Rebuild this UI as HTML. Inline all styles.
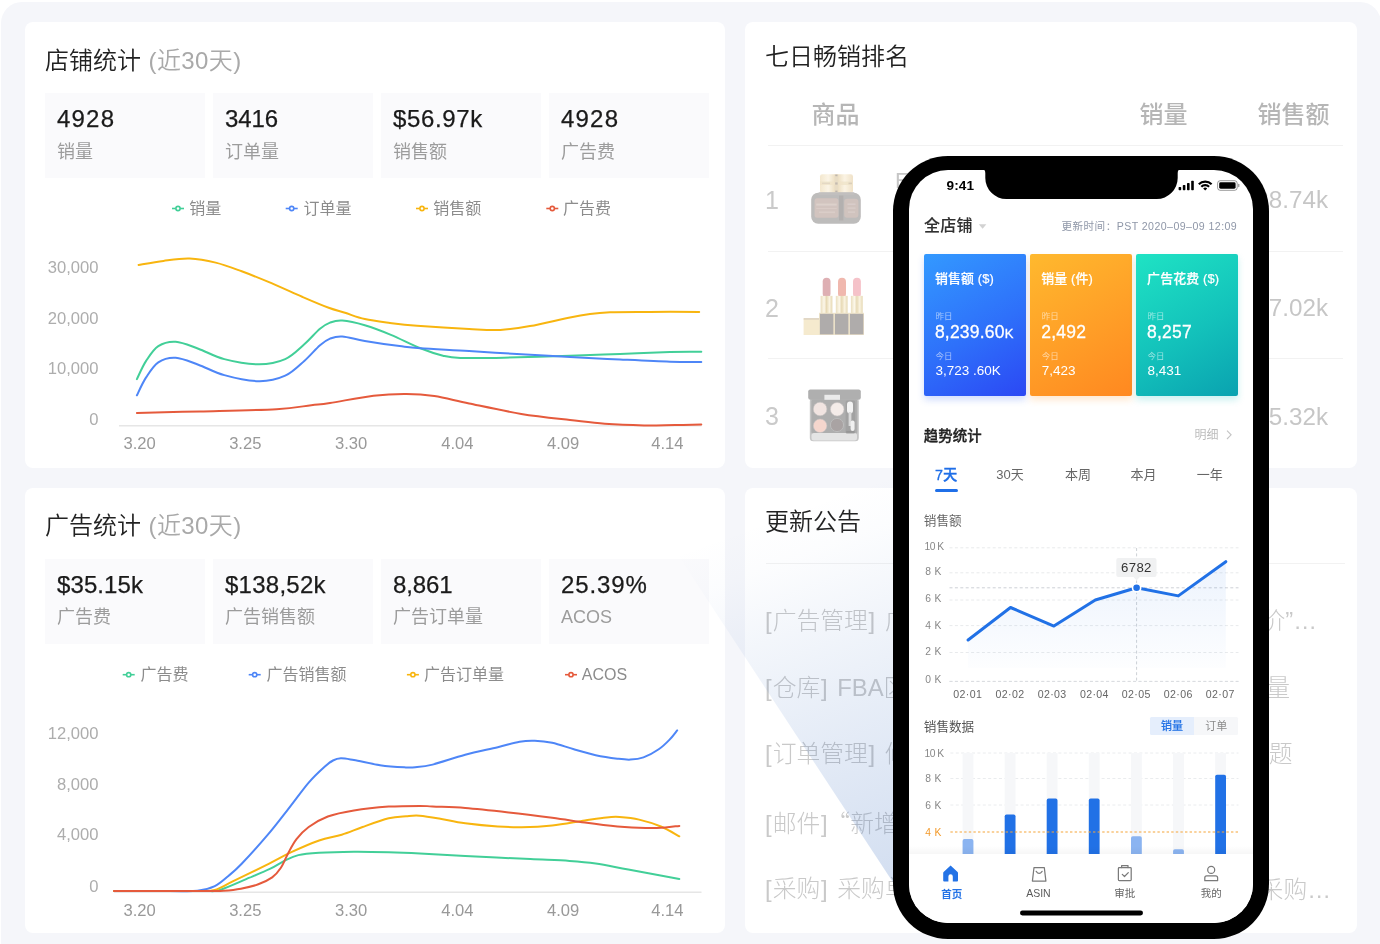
<!DOCTYPE html>
<html lang="zh-CN">
<head>
<meta charset="utf-8">
<title>Dashboard</title>
<style>
*{margin:0;padding:0;box-sizing:border-box}
html,body{width:1380px;height:944px;overflow:hidden;background:#fff}
body{position:relative;font-family:"Liberation Sans","Noto Sans CJK SC",sans-serif;color:#222;-webkit-font-smoothing:antialiased;will-change:transform}
.abs{position:absolute}
#bg{position:absolute;left:1px;top:2px;width:1380px;height:970px;background:#f5f6fa;border-radius:21px}
.card{position:absolute;background:#fff;border-radius:8px}
.t{position:absolute;white-space:nowrap;line-height:30px;height:30px}
.title{font-size:24px;color:#222;font-weight:350}
.title span{color:#a9a9a9;font-weight:350;margin-left:7.5px;letter-spacing:.4px}
.box{position:absolute;width:160px;height:85px;background:#fafafc}
.num{position:absolute;left:12px;top:11px;font-size:24px;line-height:30px;color:#1a1a1a;-webkit-text-stroke:0.25px #1a1a1a;letter-spacing:0.65px;white-space:nowrap}
.lbl{position:absolute;left:12px;top:47px;font-size:18px;line-height:24px;color:#9c9c9c;font-weight:400;white-space:nowrap}
.lg{font-size:16px;color:#8c8c8c;font-weight:400;line-height:20px;height:20px}
.ax{font-size:16.6px;color:#adadad;line-height:20px;height:20px;font-weight:300}
.ay{width:80px;text-align:right}
.axx{width:60px;text-align:center;color:#999}
svg{position:absolute;left:0;top:0;overflow:visible}
</style>
</head>
<body>
<div id="bg"></div>
<div class="card" style="left:25px;top:21.5px;width:700.2px;height:446.5px"></div>
<div class="t title" style="left:45px;top:45.7px">店铺统计<span>(近30天)</span></div>
<div class="box" style="left:45px;top:93px;height:84.5px"><div class="num" style="top:11px;letter-spacing:1.2px">4928</div><div class="lbl" style="top:47px">销量</div></div>
<div class="box" style="left:213px;top:93px;height:84.5px"><div class="num" style="top:11px;letter-spacing:-0.1px">3416</div><div class="lbl" style="top:47px">订单量</div></div>
<div class="box" style="left:381px;top:93px;height:84.5px"><div class="num" style="top:11px;letter-spacing:0.65px">$56.97k</div><div class="lbl" style="top:47px">销售额</div></div>
<div class="box" style="left:549px;top:93px;height:84.5px"><div class="num" style="top:11px;letter-spacing:1.2px">4928</div><div class="lbl" style="top:47px">广告费</div></div>
<div class="t lg" style="left:189.3px;top:198.9px">销量</div>
<div class="t lg" style="left:303.5px;top:198.9px">订单量</div>
<div class="t lg" style="left:433.2px;top:198.9px">销售额</div>
<div class="t lg" style="left:563px;top:198.9px">广告费</div>
<div class="t ax ay" style="left:18.5px;top:258px">30,000</div>
<div class="t ax ay" style="left:18.5px;top:309.4px">20,000</div>
<div class="t ax ay" style="left:18.5px;top:359.3px">10,000</div>
<div class="t ax ay" style="left:18.5px;top:410.1px">0</div>
<div class="t ax axx" style="left:109.6px;top:434px">3.20</div>
<div class="t ax axx" style="left:215.3px;top:434px">3.25</div>
<div class="t ax axx" style="left:321.2px;top:434px">3.30</div>
<div class="t ax axx" style="left:427.4px;top:434px">4.04</div>
<div class="t ax axx" style="left:533.1px;top:434px">4.09</div>
<div class="t ax axx" style="left:637.4px;top:434px">4.14</div>
<svg width="1380" height="944"><line x1="172.0" y1="208.5" x2="184.0" y2="208.5" stroke="#42cf98" stroke-width="1.6"/><circle cx="178.0" cy="208.5" r="2.1" fill="#fff" stroke="#42cf98" stroke-width="1.6"/><line x1="285.7" y1="208.5" x2="297.7" y2="208.5" stroke="#4e86f7" stroke-width="1.6"/><circle cx="291.7" cy="208.5" r="2.1" fill="#fff" stroke="#4e86f7" stroke-width="1.6"/><line x1="416.0" y1="208.5" x2="428.0" y2="208.5" stroke="#f8b50f" stroke-width="1.6"/><circle cx="422.0" cy="208.5" r="2.1" fill="#fff" stroke="#f8b50f" stroke-width="1.6"/><line x1="546.3" y1="208.5" x2="558.3" y2="208.5" stroke="#e55a3c" stroke-width="1.6"/><circle cx="552.3" cy="208.5" r="2.1" fill="#fff" stroke="#e55a3c" stroke-width="1.6"/><line x1="119" y1="425.7" x2="701.5" y2="425.7" stroke="#e6e6e6" stroke-width="1.4"/><path d="M138.6,264.9 C142.8,264.2 155.0,261.9 163.5,260.9 C172.0,259.8 180.9,258.3 189.6,258.6 C198.3,258.9 207.0,260.5 215.7,262.6 C224.4,264.7 233.0,268.1 241.7,271.3 C250.4,274.5 257.6,277.4 267.8,281.7 C278.0,286.0 292.5,292.6 302.6,297.0 C312.8,301.4 321.6,305.2 328.7,307.8 C335.8,310.4 339.0,310.9 345.0,312.8 C351.0,314.7 357.3,317.4 364.8,319.1 C372.3,320.8 381.3,321.8 390.0,322.9 C398.7,324.0 403.8,324.7 417.0,325.7 C430.2,326.7 455.2,328.3 469.1,329.0 C483.0,329.7 490.2,330.4 500.4,329.9 C510.5,329.4 518.4,328.2 530.0,326.1 C541.6,324.0 560.0,319.4 570.0,317.4 C580.0,315.4 583.3,314.9 590.0,314.0 C596.7,313.1 600.0,312.7 610.0,312.3 C620.0,311.9 635.1,312.0 650.0,311.9 C664.9,311.8 691.0,311.9 699.2,311.9" fill="none" stroke="#f8b50f" stroke-width="2" stroke-linecap="round" stroke-linejoin="round"/><path d="M136.9,379.1 C138.4,376.1 142.5,366.4 146.1,360.9 C149.7,355.4 153.4,349.3 158.3,346.1 C163.2,342.9 169.0,341.3 175.7,341.7 C182.4,342.1 190.2,345.8 198.3,348.7 C206.4,351.6 214.2,356.5 224.3,359.1 C234.4,361.7 249.0,364.3 259.1,364.3 C269.2,364.3 277.7,362.4 285.2,359.1 C292.7,355.8 298.5,349.4 304.3,344.3 C310.1,339.2 315.7,332.3 320.0,328.7 C324.3,325.1 326.3,324.0 330.0,322.6 C333.7,321.2 336.4,320.1 342.2,320.5 C348.0,320.9 356.7,322.8 364.8,325.2 C372.9,327.6 381.6,330.9 390.9,334.8 C400.2,338.7 411.7,344.8 420.4,348.3 C429.1,351.8 436.3,354.1 443.0,355.7 C449.7,357.3 450.2,357.6 460.4,357.9 C470.5,358.2 485.6,358.1 503.9,357.7 C522.2,357.3 550.6,356.3 570.0,355.7 C589.4,355.1 603.3,354.6 620.0,354.0 C636.7,353.4 656.5,352.4 670.0,352.0 C683.5,351.6 696.1,351.8 701.3,351.8" fill="none" stroke="#42cf98" stroke-width="2" stroke-linecap="round" stroke-linejoin="round"/><path d="M136.9,395.3 C138.4,392.3 142.5,382.9 146.1,377.4 C149.7,371.9 153.4,365.6 158.3,362.3 C163.2,359.0 169.0,357.3 175.7,357.7 C182.4,358.1 190.2,361.8 198.3,364.7 C206.4,367.6 214.2,372.4 224.3,375.1 C234.4,377.9 249.0,381.1 259.1,381.2 C269.2,381.3 277.7,379.1 285.2,375.7 C292.7,372.3 298.5,366.0 304.3,360.9 C310.1,355.8 315.7,348.9 320.0,345.2 C324.3,341.5 326.3,340.1 330.0,338.6 C333.7,337.2 336.4,336.1 342.2,336.5 C348.0,336.9 355.2,339.3 364.8,340.9 C374.4,342.5 390.3,344.9 399.6,346.1 C408.9,347.3 408.8,347.5 420.4,348.3 C432.0,349.1 452.3,350.0 469.1,351.0 C485.9,352.0 504.5,353.3 521.3,354.3 C538.1,355.3 553.5,356.1 570.0,357.0 C586.5,357.9 603.3,358.7 620.0,359.5 C636.7,360.3 656.5,361.3 670.0,361.7 C683.5,362.1 696.1,361.9 701.3,362.0" fill="none" stroke="#4e86f7" stroke-width="2" stroke-linecap="round" stroke-linejoin="round"/><path d="M136.9,413.0 C147.4,412.7 176.7,412.0 200.0,411.4 C223.3,410.8 257.9,410.2 276.5,409.2 C295.1,408.2 302.4,406.2 311.3,405.2 C320.2,404.2 319.6,404.6 330.0,403.0 C340.4,401.4 360.8,397.2 373.5,395.7 C386.2,394.2 396.4,393.8 406.5,393.9 C416.6,393.9 423.9,394.4 434.3,396.0 C444.7,397.6 454.6,400.5 469.1,403.5 C483.6,406.5 504.5,411.1 521.3,413.9 C538.1,416.6 556.1,418.4 570.0,420.0 C583.9,421.6 592.5,422.9 604.8,423.8 C617.1,424.7 632.3,425.2 644.0,425.4 C655.7,425.6 665.5,425.1 675.0,425.0 C684.5,424.9 696.9,424.7 701.3,424.6" fill="none" stroke="#e55a3c" stroke-width="2" stroke-linecap="round" stroke-linejoin="round"/></svg>
<div class="card" style="left:25px;top:488px;width:700.2px;height:445px"></div>
<div class="t title" style="left:45px;top:511.1px">广告统计<span>(近30天)</span></div>
<div class="box" style="left:45px;top:559px;height:84.5px"><div class="num" style="top:10.5px;letter-spacing:0.1px">$35.15k</div><div class="lbl" style="top:46px">广告费</div></div>
<div class="box" style="left:213px;top:559px;height:84.5px"><div class="num" style="top:10.5px;letter-spacing:0.25px">$138,52k</div><div class="lbl" style="top:46px">广告销售额</div></div>
<div class="box" style="left:381px;top:559px;height:84.5px"><div class="num" style="top:10.5px;letter-spacing:-0.1px">8,861</div><div class="lbl" style="top:46px">广告订单量</div></div>
<div class="box" style="left:549px;top:559px;height:84.5px"><div class="num" style="top:10.5px;letter-spacing:0.9px">25.39%</div><div class="lbl" style="top:46px">ACOS</div></div>
<div class="t lg" style="left:140.5px;top:665.1px">广告费</div>
<div class="t lg" style="left:266.5px;top:665.1px">广告销售额</div>
<div class="t lg" style="left:424px;top:665.1px">广告订单量</div>
<div class="t lg" style="left:581.8px;top:665.1px">ACOS</div>
<div class="t ax ay" style="left:18.5px;top:724.4px">12,000</div>
<div class="t ax ay" style="left:18.5px;top:775px">8,000</div>
<div class="t ax ay" style="left:18.5px;top:825.4px">4,000</div>
<div class="t ax ay" style="left:18.5px;top:876.8px">0</div>
<div class="t ax axx" style="left:109.6px;top:900.6px">3.20</div>
<div class="t ax axx" style="left:215.3px;top:900.6px">3.25</div>
<div class="t ax axx" style="left:321.2px;top:900.6px">3.30</div>
<div class="t ax axx" style="left:427.4px;top:900.6px">4.04</div>
<div class="t ax axx" style="left:533.1px;top:900.6px">4.09</div>
<div class="t ax axx" style="left:637.4px;top:900.6px">4.14</div>
<svg width="1380" height="944"><line x1="122.7" y1="674.7" x2="134.7" y2="674.7" stroke="#42cf98" stroke-width="1.6"/><circle cx="128.7" cy="674.7" r="2.1" fill="#fff" stroke="#42cf98" stroke-width="1.6"/><line x1="248.7" y1="674.7" x2="260.7" y2="674.7" stroke="#4e86f7" stroke-width="1.6"/><circle cx="254.7" cy="674.7" r="2.1" fill="#fff" stroke="#4e86f7" stroke-width="1.6"/><line x1="406.9" y1="674.7" x2="418.9" y2="674.7" stroke="#f8b50f" stroke-width="1.6"/><circle cx="412.9" cy="674.7" r="2.1" fill="#fff" stroke="#f8b50f" stroke-width="1.6"/><line x1="565.0" y1="674.7" x2="577.0" y2="674.7" stroke="#e55a3c" stroke-width="1.6"/><circle cx="571.0" cy="674.7" r="2.1" fill="#fff" stroke="#e55a3c" stroke-width="1.6"/><line x1="114" y1="892.3" x2="701.5" y2="892.3" stroke="#e6e6e6" stroke-width="1.4"/><path d="M114.0,891.0 C123.3,891.0 154.8,891.0 170.0,891.0 C185.2,891.0 196.7,891.2 205.0,891.0 C213.3,890.8 212.6,892.1 220.0,889.9 C227.4,887.7 241.2,881.2 249.6,877.7 C258.0,874.2 264.6,871.5 270.4,868.7 C276.2,865.9 279.6,863.2 284.3,860.9 C289.0,858.6 292.5,856.5 298.3,855.1 C304.1,853.7 309.8,853.3 319.1,852.7 C328.4,852.1 342.3,851.8 353.9,851.7 C365.5,851.6 377.7,851.9 388.7,852.2 C399.7,852.5 407.2,852.8 420.0,853.4 C432.8,854.0 446.8,854.9 465.2,855.9 C483.6,856.9 513.0,858.3 530.4,859.1 C547.8,859.9 558.7,860.2 569.6,860.9 C580.5,861.6 585.9,862.0 595.7,863.5 C605.5,865.0 614.4,867.0 628.3,869.6 C642.2,872.2 670.8,877.5 679.3,879.1" fill="none" stroke="#42cf98" stroke-width="2" stroke-linecap="round" stroke-linejoin="round"/><path d="M114.0,891.0 C123.3,891.0 156.1,891.0 170.0,891.0 C183.9,891.0 189.9,891.6 197.4,890.8 C204.9,890.0 209.6,888.6 214.8,886.1 C220.0,883.6 224.2,879.4 228.7,875.7 C233.2,872.0 235.3,870.5 241.7,863.8 C248.1,857.1 259.3,844.7 267.0,835.7 C274.7,826.7 280.9,818.5 287.8,809.6 C294.8,800.8 302.6,789.7 308.7,782.6 C314.8,775.5 320.2,770.7 324.3,767.0 C328.4,763.3 330.2,762.0 333.0,760.5 C335.8,759.0 337.4,758.4 340.9,758.3 C344.4,758.2 347.4,758.9 353.9,760.0 C360.4,761.1 371.6,764.0 380.0,765.2 C388.4,766.4 398.4,767.0 404.3,767.3 C410.2,767.6 410.5,767.7 415.2,767.2 C419.9,766.8 424.3,766.7 432.6,764.6 C440.9,762.5 454.3,757.7 465.2,754.8 C476.1,751.9 488.7,749.4 497.8,747.2 C506.9,745.0 513.4,742.8 519.6,741.7 C525.8,740.6 529.4,740.5 534.8,740.7 C540.2,740.9 545.7,741.4 552.2,742.8 C558.7,744.2 566.6,747.2 573.9,749.3 C581.1,751.4 588.5,753.6 595.7,755.2 C603.0,756.8 611.6,758.0 617.4,758.7 C623.2,759.4 626.0,759.8 630.4,759.6 C634.8,759.4 638.8,759.1 643.5,757.4 C648.2,755.7 654.4,752.3 658.7,749.3 C663.1,746.3 666.5,742.8 669.6,739.6 C672.7,736.5 675.9,731.9 677.2,730.4" fill="none" stroke="#4e86f7" stroke-width="2" stroke-linecap="round" stroke-linejoin="round"/><path d="M114.0,891.0 C123.3,891.0 155.7,891.0 170.0,891.0 C184.3,891.0 192.5,891.2 200.0,891.0 C207.5,890.8 209.4,891.4 214.8,889.9 C220.2,888.4 223.2,886.1 232.2,881.7 C241.2,877.4 258.8,868.7 268.7,863.8 C278.6,858.9 282.9,856.1 291.3,852.2 C299.7,848.3 310.7,843.4 319.1,840.5 C327.5,837.6 334.4,837.0 341.7,834.8 C348.9,832.5 354.8,829.8 362.6,827.0 C370.4,824.2 381.4,820.1 388.7,818.3 C395.9,816.5 401.0,816.6 406.1,816.2 C411.2,815.8 414.1,815.3 419.6,815.7 C425.1,816.1 431.5,817.2 439.1,818.5 C446.7,819.8 455.4,822.0 465.2,823.3 C475.0,824.6 488.4,825.9 497.8,826.5 C507.2,827.1 512.6,827.4 521.7,827.2 C530.8,827.0 541.7,826.5 552.2,825.4 C562.7,824.3 575.8,821.7 584.8,820.4 C593.8,819.1 600.7,818.0 606.5,817.4 C612.3,816.8 614.2,816.6 619.6,817.0 C625.0,817.4 632.2,818.0 639.1,819.6 C646.0,821.2 654.2,823.7 660.9,826.5 C667.6,829.3 676.2,834.7 679.3,836.3" fill="none" stroke="#f8b50f" stroke-width="2" stroke-linecap="round" stroke-linejoin="round"/><path d="M114.0,891.0 C123.3,891.0 154.0,891.0 170.0,891.0 C186.0,891.0 201.1,891.0 210.0,891.0 C218.9,891.0 218.3,891.2 223.5,890.8 C228.7,890.4 235.1,889.8 240.9,888.7 C246.7,887.6 253.1,886.2 258.3,884.3 C263.5,882.4 268.4,880.1 272.2,877.4 C276.0,874.6 278.3,871.7 280.9,867.8 C283.5,863.9 285.2,858.7 287.8,853.9 C290.4,849.1 293.0,843.6 296.5,839.1 C300.0,834.6 303.5,830.8 308.7,827.0 C313.9,823.2 320.3,819.3 327.8,816.5 C335.3,813.7 343.8,812.0 353.9,810.4 C364.0,808.8 377.7,807.4 388.7,806.6 C399.7,805.9 412.7,805.9 420.0,805.9 C427.3,805.9 425.1,806.1 432.6,806.5 C440.1,806.9 452.5,807.0 465.2,808.0 C477.9,809.0 494.2,810.8 508.7,812.4 C523.2,814.0 539.5,816.1 552.2,817.8 C564.9,819.5 573.9,821.1 584.8,822.6 C595.7,824.1 607.2,825.6 617.4,826.5 C627.5,827.4 637.7,827.9 645.7,828.0 C653.7,828.1 659.6,827.8 665.2,827.4 C670.8,827.0 676.9,826.1 679.3,825.9" fill="none" stroke="#e55a3c" stroke-width="2" stroke-linecap="round" stroke-linejoin="round"/></svg>
<style>
.th{font-size:24px;color:#b6b6b6;font-weight:500;line-height:30px;height:30px}
.rk{font-size:25px;color:#cacaca;line-height:30px;height:30px;font-weight:300}
.val{font-size:24.2px;color:#c6c6c6;line-height:30px;height:30px;font-weight:300;width:200px;text-align:right}
.pn{font-size:22px;color:#c6c6c6;line-height:30px;height:30px;font-weight:300}
.hl{position:absolute;height:1.2px;background:#f2f2f2}
.li{font-size:23.8px;color:#c9c9c9;font-weight:300;line-height:34px;height:34px;word-spacing:2px}
.li b{font-weight:300;margin:0 1.2px 0 .6px}
.li i{font-style:normal;font-family:"Noto Sans CJK SC",sans-serif;margin-left:-11px}
.lir{text-align:right;width:300px}
</style>
<div class="card" style="left:745px;top:21.5px;width:612.3px;height:446.5px"></div>
<div class="card" style="left:745px;top:488px;width:612.3px;height:445px"></div>
<div class="t title" style="left:765px;top:41.5px">七日畅销排名</div>
<div class="t th" style="left:811.5px;top:100px">商品</div>
<div class="t th" style="left:1139.5px;top:100px">销量</div>
<div class="t th" style="left:1257.5px;top:100px">销售额</div>
<div class="hl" style="left:768px;top:145.3px;width:575px"></div>
<div class="hl" style="left:768px;top:251.2px;width:575px"></div>
<div class="hl" style="left:768px;top:358px;width:575px"></div>
<div class="t rk" style="left:765px;top:184.5px">1</div>
<div class="t rk" style="left:765px;top:292.5px">2</div>
<div class="t rk" style="left:765px;top:401px">3</div>
<div class="t pn" style="left:895px;top:165.6px">Estee Lauder 雅诗兰黛眼霜</div>
<div class="t pn" style="left:895px;top:292px">TOM FORD 口红套装</div>
<div class="t pn" style="left:895px;top:401px">CHANEL 四色眼影</div>
<div class="t val" style="left:1128px;top:185px">$128.74k</div>
<div class="t val" style="left:1128px;top:293px">$97.02k</div>
<div class="t val" style="left:1128px;top:401.5px">$65.32k</div>
<div class="t val" style="left:990px;top:185px">2,816</div>
<div class="t val" style="left:990px;top:293px">2,154</div>
<div class="t val" style="left:990px;top:401.5px">1,760</div>
<svg width="1380" height="944" style="opacity:.93">
<defs>
<filter id="sb" x="-10%" y="-10%" width="120%" height="120%"><feGaussianBlur stdDeviation="0.6"/></filter>
<linearGradient id="gold" x1="0" x2="1" y1="0" y2="0"><stop offset="0" stop-color="#e9dcb9"/><stop offset=".3" stop-color="#fcf7e8"/><stop offset=".5" stop-color="#e6d7b0"/><stop offset=".75" stop-color="#faf3df"/><stop offset="1" stop-color="#e4d5ae"/></linearGradient>
<linearGradient id="lid" x1="0" x2="1" y1="0" y2="0"><stop offset="0" stop-color="#f3e6cb"/><stop offset=".25" stop-color="#fbf4e4"/><stop offset=".5" stop-color="#ead9b8"/><stop offset=".75" stop-color="#fbf3e2"/><stop offset="1" stop-color="#efe0c4"/></linearGradient>
</defs>
<g filter="url(#sb)">
<!-- jar -->
<rect x="820" y="174.3" width="33" height="18.8" rx="2.2" fill="url(#lid)"/>
<rect x="820" y="181.6" width="33" height="3.4" fill="#efe2c6" opacity=".8"/>
<rect x="834.6" y="174.3" width="3.6" height="18.8" fill="#e6d9c2" opacity=".8"/>
<rect x="835.3" y="174.6" width="2.2" height="1.6" fill="#b9b0a6"/><rect x="835.2" y="182.4" width="2.4" height="2.2" fill="#bfb5aa"/><rect x="835.3" y="190.6" width="2.2" height="1.6" fill="#b9b0a6"/>
<rect x="848.5" y="182.6" width="3.5" height="1.6" fill="#d8cbb6"/><rect x="822" y="182.6" width="8" height="1.4" fill="#e2d6c0"/>
<rect x="811.2" y="192.8" width="49.6" height="31" rx="7" fill="#b9b7b6"/>
<rect x="818.5" y="192.2" width="36" height="3" rx="1" fill="#bdbbba"/>
<rect x="814.6" y="198.2" width="23.8" height="19.6" rx="2.5" fill="#cfc0bb"/>
<rect x="844.2" y="198.8" width="14.2" height="19" rx="3" fill="#cdbfba"/>
<rect x="839" y="195.5" width="4.4" height="25" fill="#aeabaa"/>
<rect x="816.2" y="203.6" width="20.5" height="2" fill="#dccfca" opacity=".9"/><rect x="816.2" y="208" width="20.5" height="1" fill="#d9cbc6" opacity=".8"/><rect x="819" y="211.5" width="16" height="1.600" fill="#d9ccc7" opacity=".8"/>
<rect x="847.5" y="203.500" width="8" height="1.400" fill="#daceca" opacity=".8"/><rect x="847.5" y="207.500" width="8" height="1.200" fill="#daceca" opacity=".8"/><rect x="848" y="211.500" width="7" height="1.200" fill="#daceca" opacity=".8"/>
<!-- lipsticks -->
<rect x="803.6" y="318.6" width="15.4" height="16.4" fill="#f5e9cb"/>
<rect x="803.6" y="318.2" width="15.4" height="1.4" fill="#d9cdb9"/>
<g>
<rect x="822.7" y="277.7" width="7.8" height="20" rx="3.9" fill="#dcaaae"/>
<rect x="838" y="277.7" width="8" height="20" rx="4" fill="#efb3a8"/>
<rect x="853" y="277.7" width="7.9" height="20" rx="3.9" fill="#f5bec5"/>
<rect x="820.6" y="295.9" width="11.8" height="17.6" fill="url(#gold)"/>
<rect x="835.8" y="295.9" width="11.8" height="17.6" fill="url(#gold)"/>
<rect x="850.9" y="295.9" width="11.8" height="17.6" fill="url(#gold)"/>
<rect x="819" y="312.8" width="45" height="22.2" fill="#f0e5c8"/>
<rect x="819.9" y="313.8" width="13.5" height="20.6" fill="#aaa6a5"/>
<rect x="834.9" y="313.8" width="13.5" height="20.6" fill="#aaa6a5"/>
<rect x="849.9" y="313.8" width="13.5" height="20.6" fill="#aaa6a5"/>
</g>
<!-- palette -->
<rect x="809.8" y="398" width="49" height="43.2" rx="3.5" fill="#c2c2c2"/>
<rect x="811.3" y="399.5" width="46" height="34" rx="1.5" fill="#a8a8a8"/>
<rect x="811.5" y="433" width="45.5" height="7.6" rx="2.5" fill="#e2e2e2"/>
<rect x="808.2" y="389.4" width="52.6" height="10.4" rx="2.2" fill="#a9a9a9"/>
<rect x="824.4" y="394.8" width="15.6" height="5" fill="#eaeaea"/>
<circle cx="820.1" cy="409" r="6.8" fill="#f1e3df" stroke="#c4c0c0" stroke-width=".6"/>
<circle cx="837.2" cy="409.3" r="6.8" fill="#f4ebe8" stroke="#c4c0c0" stroke-width=".6"/>
<circle cx="820.1" cy="425.8" r="6.8" fill="#f6d3ca" stroke="#c4c0c0" stroke-width=".6"/>
<circle cx="837" cy="425" r="6.6" fill="#a39d9d" stroke="#b8b8b8" stroke-width=".9"/>
<rect x="845.6" y="400.5" width="9.6" height="33" rx="1.5" fill="#9c9c9c"/>
<rect x="847" y="401.5" width="6" height="12" rx="3" fill="#f4f4f4"/>
<rect x="848.6" y="412" width="2.8" height="14" fill="#d8d8d8"/>
<rect x="850.6" y="420.5" width="4" height="10.5" rx="2" fill="#f0f0f0"/>
<rect x="846.3" y="431" width="8" height="1.8" fill="#8f8f8f"/>
</g>
</svg>
<div class="t title" style="left:765px;top:506.5px">更新公告</div>
<div class="hl" style="left:766px;top:563.3px;width:579px"></div>
<div class="t li" style="left:764.3px;top:603.5px"><b>[</b>广告管理<b>]</b> 广告活动批量操作支持设置</div>
<div class="t li" style="left:764.3px;top:670.5px"><b>[</b>仓库<b>]</b> FBA区库存报表新增在途库存</div>
<div class="t li" style="left:764.3px;top:736.5px"><b>[</b>订单管理<b>]</b> 修复部分订单同步延迟的</div>
<div class="t li" style="left:764.3px;top:804.5px"><b>[</b>邮件<b>]</b> <i>“</i>新增邮件模板批量发送功能</div>
<div class="t li" style="left:764.3px;top:872px"><b>[</b>采购<b>]</b> 采购单支持一键生成并同步至</div>
<div class="t li lir" style="left:1018px;top:603.5px">“智能竞价”<span style="letter-spacing:1px">…</span></div>
<div class="t li lir" style="left:990px;top:670.5px">数量</div>
<div class="t li lir" style="left:992.5px;top:736.5px">问题</div>
<div class="t li lir" style="left:1031px;top:872.6px">采购…</div>
<svg width="1380" height="944">
<defs><linearGradient id="beam" gradientUnits="userSpaceOnUse" x1="676" y1="552" x2="813.6" y2="927.6">
<stop offset="0" stop-color="#4878c4" stop-opacity="0"/>
<stop offset=".12" stop-color="#4878c4" stop-opacity=".018"/>
<stop offset=".25" stop-color="#4878c4" stop-opacity=".055"/>
<stop offset=".5" stop-color="#4878c4" stop-opacity=".125"/>
<stop offset=".75" stop-color="#4878c4" stop-opacity=".19"/>
<stop offset="1" stop-color="#4878c4" stop-opacity=".25"/>
</linearGradient></defs>
<polygon points="676,552 900,470 900,893" fill="url(#beam)"/>
</svg>
<style>
#phone{position:absolute;left:893px;top:156px;width:376px;height:782.5px;background:#000;border-radius:55px}
#screen{position:absolute;left:909.3px;top:170px;width:343.9px;height:753px;background:#fff;border-radius:39px;overflow:hidden}
#sc{position:absolute;left:-909.3px;top:-170px;width:1380px;height:944px}
.p{position:absolute;white-space:nowrap}
.gc{position:absolute;top:254.2px;width:101.8px;height:141.8px;border-radius:2px}
.gc .h{position:absolute;left:11px;top:17.2px;font-size:12.9px;line-height:16px;font-weight:500;color:#fff;letter-spacing:.15px;-webkit-text-stroke:.2px #fff}
.gc .s{position:absolute;left:11.5px;font-size:8.5px;line-height:10px;color:rgba(255,255,255,.55)}
.gc .b{position:absolute;left:11px;top:67.5px;font-size:17.5px;line-height:20px;color:#fff;-webkit-text-stroke:0.3px #fff;letter-spacing:.2px}
.gc .b small{font-size:13px}
.gc .c{position:absolute;left:11.5px;top:108.5px;font-size:13.5px;line-height:16px;color:#fff}
.tab{font-size:13px;color:#666;line-height:18px;height:18px}
</style>
<div id="phone"></div>
<div id="screen"><div id="sc">
<!-- status bar -->
<div class="p" style="left:946.5px;top:176.5px;font-size:13.6px;font-weight:700;line-height:18px;color:#000;letter-spacing:.1px">9:41</div>
<svg width="1380" height="944">
<path d="M976,169 h5.5 q3.8,0 3.8,4 v5 a21,21 0 0 0 21,21 h150.4 a21,21 0 0 0 21,-21 v-5 q0,-4 3.8,-4 h5.5 z" fill="#000"/>
<!-- signal -->
<rect x="1178.6" y="187" width="2.6" height="3.2" rx=".7" fill="#000"/>
<rect x="1182.8" y="185" width="2.6" height="5.2" rx=".7" fill="#000"/>
<rect x="1187" y="183" width="2.6" height="7.2" rx=".7" fill="#000"/>
<rect x="1191.2" y="180.8" width="2.6" height="9.4" rx=".7" fill="#000"/>
<!-- wifi -->
<g fill="none" stroke="#000" stroke-width="2.15" stroke-linecap="butt">
<path d="M1198.800,184.300 a9,9 0 0 1 12.800,0"/>
<path d="M1201.300,186.800 a5.500,5.500 0 0 1 7.800,0"/>
</g>
<path d="M1203.2,188.500 a2.800,2.800 0 0 1 4,0 l-2,2.100 z" fill="#000"/>
<!-- battery -->
<rect x="1217.6" y="180.7" width="19.6" height="9.6" rx="2.6" fill="none" stroke="#000" stroke-opacity=".4" stroke-width="1"/>
<rect x="1219.2" y="182.3" width="16.4" height="6.4" rx="1.4" fill="#000"/>
<rect x="1238.100" y="183.800" width="1.300" height="3.400" rx=".65" fill="#000" fill-opacity=".4"/>
<!-- dropdown caret -->
<path d="M978.8,224.2 h7.6 l-3.8,4.6 z" fill="#d2d2d2"/>
<!-- detail chevron -->
<path d="M1227,430.6 l4.1,4.2 l-4.1,4.2" fill="none" stroke="#c4c4c4" stroke-width="1.1"/>
</svg>
<div class="p" style="left:924px;top:216.2px;font-size:16px;font-weight:500;line-height:20px;color:#303030;-webkit-text-stroke:.1px #303030;letter-spacing:.2px">全店铺</div>
<div class="p" style="left:1061.5px;top:218.8px;font-size:10.6px;line-height:14px;color:#8f97a8;letter-spacing:.44px" id="upd">更新时间：PST 2020–09–09 12:09</div>
<!-- gradient cards -->
<div class="gc" style="left:923.9px;background:linear-gradient(150deg,#3399ff 0%,#2e70fa 55%,#2b48f4 100%);box-shadow:0 4px 7px rgba(48,100,245,.22)">
<div class="h">销售额 ($)</div><div class="s" style="top:57px">昨日</div><div class="b">8,239.60<small>K</small></div><div class="s" style="top:97px">今日</div><div class="c">3,723 .60K</div></div>
<div class="gc" style="left:1030.3px;background:linear-gradient(150deg,#ffb92e 0%,#ff9e27 55%,#ff8820 100%);box-shadow:0 4px 7px rgba(255,150,40,.22)">
<div class="h">销量 (件)</div><div class="s" style="top:57px">昨日</div><div class="b">2,492</div><div class="s" style="top:97px">今日</div><div class="c">7,423</div></div>
<div class="gc" style="left:1136.1px;background:linear-gradient(150deg,#1fe3c4 0%,#13c2bb 55%,#0aa2b0 100%);box-shadow:0 4px 7px rgba(20,190,185,.22)">
<div class="h">广告花费 ($)</div><div class="s" style="top:57px">昨日</div><div class="b">8,257</div><div class="s" style="top:97px">今日</div><div class="c">8,431</div></div>
<!-- trend header -->
<div class="p" style="left:923.8px;top:425.5px;font-size:14.4px;font-weight:500;line-height:20px;color:#222;-webkit-text-stroke:.35px #222;letter-spacing:.1px">趋势统计</div>
<div class="p" style="left:1194.5px;top:427.3px;font-size:12px;line-height:17px;color:#bcbcbc">明细</div>
<div class="p tab" style="left:935px;top:465.5px;font-size:14.3px;color:#1f6fe8;font-weight:500;-webkit-text-stroke:.3px #1f6fe8">7天</div>
<div class="p" style="left:935.3px;top:488.7px;width:22.8px;height:3.2px;border-radius:1.6px;background:#1f6fe8"></div>
<div class="p tab" style="left:996.2px;top:466px">30天</div>
<div class="p tab" style="left:1065px;top:466px">本周</div>
<div class="p tab" style="left:1130.5px;top:466px">本月</div>
<div class="p tab" style="left:1196.7px;top:466px">一年</div>
<div class="p" style="left:923.8px;top:511.5px;font-size:12.6px;line-height:18px;color:#666">销售额</div>
<style>.yl{font-size:10.3px;line-height:14px;color:#888;letter-spacing:-.45px}.xl{width:40px;text-align:center;font-size:10.6px;line-height:14px;color:#666;letter-spacing:.35px}.tl{width:50px;text-align:center;font-size:10.5px;line-height:14px}</style>
<svg width="1380" height="944">
<defs><linearGradient id="ar" x1="0" x2="0" y1="0" y2="1"><stop offset="0" stop-color="#2171e6" stop-opacity=".085"/><stop offset="1" stop-color="#2171e6" stop-opacity="0.01"/></linearGradient></defs>
<line x1="949.5" y1="547.8" x2="1238.5" y2="547.8" stroke="#e8eaec" stroke-width="1" stroke-dasharray="3 2.4"/>
<line x1="949.5" y1="572.8" x2="1238.5" y2="572.8" stroke="#e8eaec" stroke-width="1" stroke-dasharray="3 2.4"/>
<line x1="949.5" y1="600" x2="1238.5" y2="600" stroke="#e8eaec" stroke-width="1" stroke-dasharray="3 2.4"/>
<line x1="949.5" y1="625.6" x2="1238.5" y2="625.6" stroke="#e8eaec" stroke-width="1" stroke-dasharray="3 2.4"/>
<line x1="949.5" y1="652.5" x2="1238.5" y2="652.5" stroke="#e8eaec" stroke-width="1" stroke-dasharray="3 2.4"/>
<line x1="949.5" y1="681.4" x2="1238.5" y2="681.4" stroke="#e8eaec" stroke-width="1" stroke-dasharray="3 2.4"/>
<line x1="949.5" y1="681.4" x2="1238.5" y2="681.4" stroke="#d9dcdf" stroke-width="1" stroke-dasharray="3 2.4"/>
<line x1="949.5" y1="587.8" x2="1238.5" y2="587.8" stroke="#cdd1d6" stroke-width="1" stroke-dasharray="3 2.4"/>
<line x1="1136.6" y1="548" x2="1136.6" y2="681.4" stroke="#cdd1d6" stroke-width="1" stroke-dasharray="3 2.4"/>
<polygon points="968.1,640 1010.5,607.5 1053.9,626.1 1095.3,600 1136.6,587.8 1178.3,595.9 1225.8,561.7 1225.8,668 968.1,668" fill="url(#ar)"/>
<polyline points="968.1,640 1010.5,607.5 1053.9,626.1 1095.3,600 1136.6,587.8 1178.3,595.9 1225.8,561.7" fill="none" stroke="#2171e6" stroke-width="3" stroke-linejoin="round" stroke-linecap="round"/>
<circle cx="1136.6" cy="587.8" r="4.1" fill="#2171e6" stroke="#fff" stroke-width="1.6"/>
<rect x="1116.3" y="558" width="40.2" height="19" rx="2" fill="#f0f1f2"/><path d="M1133.2,576.8 h6.8 l-3.4,3.6 z" fill="#f0f1f2"/>
<line x1="950.4" y1="753" x2="1238.5" y2="753" stroke="#eaecee" stroke-width="1" stroke-dasharray="3 2.4"/>
<line x1="950.4" y1="778.5" x2="1238.5" y2="778.5" stroke="#eaecee" stroke-width="1" stroke-dasharray="3 2.4"/>
<line x1="950.4" y1="805" x2="1238.5" y2="805" stroke="#eaecee" stroke-width="1" stroke-dasharray="3 2.4"/>
<line x1="950.4" y1="858" x2="1238.5" y2="858" stroke="#eaecee" stroke-width="1" stroke-dasharray="3 2.4"/>
<rect x="962.6" y="753" width="10.8" height="110" fill="#f6f7f9"/><path d="M962.6,870 V840.9 q0,-1.800 1.800,-1.800 h7.2 q1.800,0 1.800,1.800 V870 z" fill="#8bb4f1"/>
<rect x="1004.7" y="753" width="10.8" height="110" fill="#f6f7f9"/><path d="M1004.7,870 V816.3 q0,-1.800 1.800,-1.800 h7.2 q1.800,0 1.800,1.800 V870 z" fill="#2171e6"/>
<rect x="1046.7" y="753" width="10.8" height="110" fill="#f6f7f9"/><path d="M1046.7,870 V800.4 q0,-1.800 1.800,-1.800 h7.2 q1.800,0 1.800,1.800 V870 z" fill="#2171e6"/>
<rect x="1088.8" y="753" width="10.8" height="110" fill="#f6f7f9"/><path d="M1088.8,870 V800.4 q0,-1.800 1.800,-1.800 h7.2 q1.800,0 1.800,1.800 V870 z" fill="#2171e6"/>
<rect x="1131" y="753" width="10.8" height="110" fill="#f6f7f9"/><path d="M1131,870 V838 q0,-1.800 1.800,-1.800 h7.2 q1.800,0 1.800,1.800 V870 z" fill="#8bb4f1"/>
<rect x="1173.1" y="753" width="10.8" height="110" fill="#f6f7f9"/><path d="M1173.1,870 V851.1 q0,-1.800 1.800,-1.800 h7.2 q1.800,0 1.800,1.800 V870 z" fill="#8bb4f1"/>
<rect x="1215.2" y="753" width="10.8" height="110" fill="#f6f7f9"/><path d="M1215.2,870 V776.6 q0,-1.800 1.800,-1.800 h7.2 q1.800,0 1.800,1.800 V870 z" fill="#2171e6"/>
<line x1="950.4" y1="832" x2="1238.5" y2="832" stroke="#f6a53a" stroke-width="1.2" stroke-dasharray="2.4 2.2"/>
</svg>
<div class="p yl" style="left:924.5px;top:540px;letter-spacing:-0.5px">10 K</div>
<div class="p yl" style="left:925.3px;top:565.4px;letter-spacing:0.25px">8 K</div>
<div class="p yl" style="left:925.3px;top:591.5px;letter-spacing:0.25px">6 K</div>
<div class="p yl" style="left:925.3px;top:618.6px;letter-spacing:0.25px">4 K</div>
<div class="p yl" style="left:925.3px;top:644.7px;letter-spacing:0.25px">2 K</div>
<div class="p yl" style="left:925.3px;top:672.9px;letter-spacing:0.25px">0 K</div>
<div class="p xl" style="left:947.8px;top:687.2px">02·01</div>
<div class="p xl" style="left:990px;top:687.2px">02·02</div>
<div class="p xl" style="left:1032.2px;top:687.2px">02·03</div>
<div class="p xl" style="left:1074.4px;top:687.2px">02·04</div>
<div class="p xl" style="left:1116.3px;top:687.2px">02·05</div>
<div class="p xl" style="left:1158.3px;top:687.2px">02·06</div>
<div class="p xl" style="left:1200.3px;top:687.2px">02·07</div>
<div class="p" style="left:1116.3px;top:559px;width:40.2px;text-align:center;font-size:13.2px;line-height:17px;color:#333;letter-spacing:.3px">6782</div>
<div class="p" style="left:923.8px;top:717.8px;font-size:12.6px;line-height:18px;color:#555">销售数据</div>
<div class="p" style="left:1150px;top:716.8px;width:44px;height:18.6px;background:#e5eefc;border-radius:1.5px 0 0 1.5px;text-align:center;font-size:11px;line-height:18.6px;color:#2775e6;font-weight:500;-webkit-text-stroke:.2px #2775e6">销量</div>
<div class="p" style="left:1194px;top:716.8px;width:44.3px;height:18.6px;background:#f6f7f9;border-radius:0 1.5px 1.5px 0;text-align:center;font-size:11px;line-height:18.6px;color:#8a8a8a">订单</div>
<div class="p yl" style="left:924.5px;top:746.8px;color:#888;letter-spacing:-0.5px">10 K</div>
<div class="p yl" style="left:925.3px;top:772.1px;color:#888;letter-spacing:0.25px">8 K</div>
<div class="p yl" style="left:925.3px;top:798.8px;color:#888;letter-spacing:0.25px">6 K</div>
<div class="p yl" style="left:925.3px;top:825.8px;color:#f39a2b;letter-spacing:0.25px">4 K</div>
<div class="p" style="left:900px;top:846px;width:360px;height:8px;background:linear-gradient(to bottom,rgba(0,0,0,0),rgba(0,0,0,.035))"></div>
<div class="p" style="left:900px;top:853.7px;width:360px;height:80px;background:#fff"></div>
<svg width="1380" height="944">
<path d="M950.6,865.5 l7,6.5 q.4,.4 .4,1 v7.600 q0,.9 -.9,.9 h-4.300 v-5 a2.200,2.200 0 0 0 -4.400,0 v5 h-4.300 q-.9,0 -.9,-.9 v-7.600 q0,-.6 .4,-1 z" fill="#2473e6"/>
<g fill="none" stroke="#7a7a7a" stroke-width="1.25" stroke-linejoin="round" stroke-linecap="round"><path d="M1034,867.5 h10.300 l1.600,13.600 h-13.500 z"/><path d="M1036.200,871.300 q2.950,4.200 5.900,0"/><rect x="1118.400" y="867.600" width="12.800" height="13" rx=".8"/><path d="M1121.600,867.600 v-2 h6.400 v2" /><path d="M1122.300,874.400 l2.200,2.100 l3.800,-3.900"/><circle cx="1211.200" cy="869.900" r="3.500"/><path d="M1204.800,880.700 v-3 q0,-1.900 1.900,-1.900 h9 q1.900,0 1.900,1.900 v3 z"/></g>
<rect x="1020" y="910.600" width="123" height="4.800" rx="2.400" fill="#000"/>
</svg>
<div class="p tl" style="left:926.7px;top:887px;color:#2473e6;font-weight:700">首页</div>
<div class="p tl" style="left:1013.4px;top:885.6px;color:#5a5a5a;font-weight:400">ASIN</div>
<div class="p tl" style="left:1099.7px;top:885.6px;color:#666;font-weight:400">审批</div>
<div class="p tl" style="left:1186.2px;top:885.6px;color:#666;font-weight:400">我的</div>
</div></div>
</body>
</html>
